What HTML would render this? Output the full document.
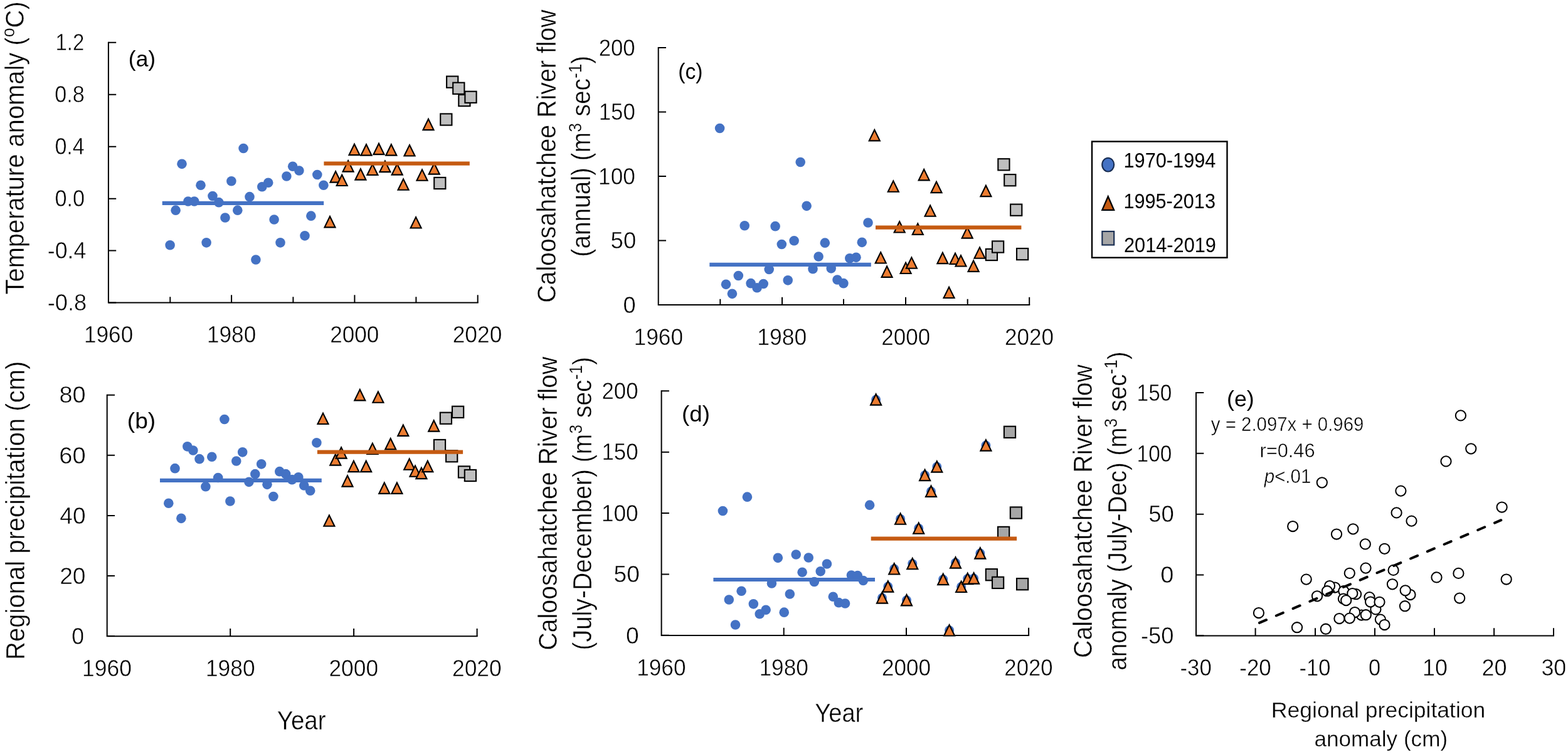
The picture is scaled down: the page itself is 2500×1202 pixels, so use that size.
<!DOCTYPE html>
<html lang="en"><head><meta charset="utf-8"><title>Figure</title>
<style>html,body{margin:0;padding:0;background:#fff}body{width:2500px;height:1202px;overflow:hidden}svg{display:block}text{font-family:'Liberation Sans', sans-serif;fill:#000;white-space:pre;stroke:#fff;stroke-width:.5px}text.pl{stroke:none}text.tt{stroke-width:.45px}text.xt{stroke-width:.35px}tspan.sp{stroke-width:.3px}</style>
</head><body>
<svg width="2500" height="1202" viewBox="0 0 2500 1202" role="img" aria-label="Five-panel figure: temperature anomaly, regional precipitation and Caloosahatchee River flow by year, with precipitation-flow regression">
<rect width="2500" height="1202" fill="#fff"/>
<g id="panel-a">
<path d="M172.9 66.7V482.6H762.7" fill="none" stroke="#000" stroke-width="2" stroke-linejoin="miter"/><path d="M172.9 67.7h12.3M172.9 150.68h12.3M172.9 233.66h12.3M172.9 316.64h12.3M172.9 399.62h12.3M172.9 482.4h12.3M369.1 482.6v-12.3M565.4 482.6v-12.3M761.7 482.6v-12.3M271.3 482.6v-9.3M467.4 482.6v-9.3M663.4 482.6v-9.3" fill="none" stroke="#000" stroke-width="2"/>
<circle cx="271.1" cy="390.75" r="7.8" fill="#4472C4"/><circle cx="280.1" cy="335.15" r="7.8" fill="#4472C4"/><circle cx="290" cy="261.35" r="7.8" fill="#4472C4"/><circle cx="299.9" cy="320.95" r="7.8" fill="#4472C4"/><circle cx="309.8" cy="320.95" r="7.8" fill="#4472C4"/><circle cx="320" cy="295.25" r="7.8" fill="#4472C4"/><circle cx="329.1" cy="386.85" r="7.8" fill="#4472C4"/><circle cx="339" cy="312.45" r="7.8" fill="#4472C4"/><circle cx="348.9" cy="322.65" r="7.8" fill="#4472C4"/><circle cx="359" cy="346.95" r="7.8" fill="#4472C4"/><circle cx="368.9" cy="288.75" r="7.8" fill="#4472C4"/><circle cx="378.8" cy="335.15" r="7.8" fill="#4472C4"/><circle cx="388.1" cy="236.45" r="7.8" fill="#4472C4"/><circle cx="398" cy="313.65" r="7.8" fill="#4472C4"/><circle cx="407.9" cy="413.95" r="7.8" fill="#4472C4"/><circle cx="417.8" cy="297.75" r="7.8" fill="#4472C4"/><circle cx="427.7" cy="291.25" r="7.8" fill="#4472C4"/><circle cx="437.1" cy="350.05" r="7.8" fill="#4472C4"/><circle cx="447" cy="386.85" r="7.8" fill="#4472C4"/><circle cx="456.9" cy="281.05" r="7.8" fill="#4472C4"/><circle cx="466.7" cy="265.25" r="7.8" fill="#4472C4"/><circle cx="476.9" cy="272.05" r="7.8" fill="#4472C4"/><circle cx="486" cy="375.85" r="7.8" fill="#4472C4"/><circle cx="495.9" cy="344.15" r="7.8" fill="#4472C4"/><circle cx="505.8" cy="278.55" r="7.8" fill="#4472C4"/><circle cx="515.9" cy="295.25" r="7.8" fill="#4472C4"/><path d="M526 345L534.5 362.35L517.5 362.35Z" fill="#ED7D31" stroke="#000" stroke-width="2.15" stroke-linejoin="miter"/><path d="M535.1 273.2L543.6 290.55L526.6 290.55Z" fill="#ED7D31" stroke="#000" stroke-width="2.15" stroke-linejoin="miter"/><path d="M545.2 278.6L553.7 295.95L536.7 295.95Z" fill="#ED7D31" stroke="#000" stroke-width="2.15" stroke-linejoin="miter"/><path d="M555.1 256.2L563.6 273.55L546.6 273.55Z" fill="#ED7D31" stroke="#000" stroke-width="2.15" stroke-linejoin="miter"/><path d="M565 229.7L573.5 247.05L556.5 247.05Z" fill="#ED7D31" stroke="#000" stroke-width="2.15" stroke-linejoin="miter"/><path d="M574.9 269.3L583.4 286.65L566.4 286.65Z" fill="#ED7D31" stroke="#000" stroke-width="2.15" stroke-linejoin="miter"/><path d="M584 230.2L592.5 247.55L575.5 247.55Z" fill="#ED7D31" stroke="#000" stroke-width="2.15" stroke-linejoin="miter"/><path d="M593.9 261.6L602.4 278.95L585.4 278.95Z" fill="#ED7D31" stroke="#000" stroke-width="2.15" stroke-linejoin="miter"/><path d="M604 228.8L612.5 246.15L595.5 246.15Z" fill="#ED7D31" stroke="#000" stroke-width="2.15" stroke-linejoin="miter"/><path d="M613.9 256.8L622.4 274.15L605.4 274.15Z" fill="#ED7D31" stroke="#000" stroke-width="2.15" stroke-linejoin="miter"/><path d="M623.8 230.2L632.3 247.55L615.3 247.55Z" fill="#ED7D31" stroke="#000" stroke-width="2.15" stroke-linejoin="miter"/><path d="M633.2 261.3L641.7 278.65L624.7 278.65Z" fill="#ED7D31" stroke="#000" stroke-width="2.15" stroke-linejoin="miter"/><path d="M643.1 285.4L651.6 302.75L634.6 302.75Z" fill="#ED7D31" stroke="#000" stroke-width="2.15" stroke-linejoin="miter"/><path d="M653 231.1L661.5 248.45L644.5 248.45Z" fill="#ED7D31" stroke="#000" stroke-width="2.15" stroke-linejoin="miter"/><path d="M663.1 346.1L671.6 363.45L654.6 363.45Z" fill="#ED7D31" stroke="#000" stroke-width="2.15" stroke-linejoin="miter"/><path d="M673 270.4L681.5 287.75L664.5 287.75Z" fill="#ED7D31" stroke="#000" stroke-width="2.15" stroke-linejoin="miter"/><path d="M683 189.7L691.5 207.05L674.5 207.05Z" fill="#ED7D31" stroke="#000" stroke-width="2.15" stroke-linejoin="miter"/><path d="M692.3 260.2L700.8 277.55L683.8 277.55Z" fill="#ED7D31" stroke="#000" stroke-width="2.15" stroke-linejoin="miter"/><rect x="692.2" y="282.9" width="18.2" height="18.2" fill="#BFBFBF" stroke="#000" stroke-width="2.1"/><rect x="702.2" y="181.4" width="18.2" height="18.2" fill="#BFBFBF" stroke="#000" stroke-width="2.1"/><rect x="712.1" y="121.6" width="18.2" height="18.2" fill="#BFBFBF" stroke="#000" stroke-width="2.1"/><rect x="722.2" y="131.7" width="18.2" height="18.2" fill="#BFBFBF" stroke="#000" stroke-width="2.1"/><rect x="731.3" y="151" width="18.2" height="18.2" fill="#BFBFBF" stroke="#000" stroke-width="2.1"/><rect x="741.4" y="145.7" width="18.2" height="18.2" fill="#BFBFBF" stroke="#000" stroke-width="2.1"/><line x1="258.7" y1="323.9" x2="516.2" y2="323.9" stroke="#4472C4" stroke-width="6.2"/><line x1="516.4" y1="260.6" x2="748.8" y2="260.6" stroke="#C55A11" stroke-width="6.2"/>
</g>
<g id="panel-b">
<path d="M170.7 628.7V1014.25H761.6" fill="none" stroke="#000" stroke-width="2" stroke-linejoin="miter"/><path d="M170.7 629.7h12.3M170.7 725.84h12.3M170.7 821.98h12.3M170.7 918.11h12.3M170.7 1014.05h12.3M367.2 1014.25v-12.3M564.1 1014.25v-12.3M760.6 1014.25v-12.3" fill="none" stroke="#000" stroke-width="2"/>
<circle cx="268.8" cy="802.25" r="7.8" fill="#4472C4"/><circle cx="279" cy="746.65" r="7.8" fill="#4472C4"/><circle cx="288.9" cy="826.35" r="7.8" fill="#4472C4"/><circle cx="298.8" cy="711.85" r="7.8" fill="#4472C4"/><circle cx="307.9" cy="718.05" r="7.8" fill="#4472C4"/><circle cx="318" cy="731.65" r="7.8" fill="#4472C4"/><circle cx="327.9" cy="775.75" r="7.8" fill="#4472C4"/><circle cx="337.8" cy="728.25" r="7.8" fill="#4472C4"/><circle cx="347.7" cy="761.55" r="7.8" fill="#4472C4"/><circle cx="357.9" cy="668.55" r="7.8" fill="#4472C4"/><circle cx="366.9" cy="798.95" r="7.8" fill="#4472C4"/><circle cx="376.8" cy="735.05" r="7.8" fill="#4472C4"/><circle cx="386.7" cy="720.85" r="7.8" fill="#4472C4"/><circle cx="396.9" cy="768.35" r="7.8" fill="#4472C4"/><circle cx="406.8" cy="755.65" r="7.8" fill="#4472C4"/><circle cx="416.7" cy="739.85" r="7.8" fill="#4472C4"/><circle cx="426" cy="772.35" r="7.8" fill="#4472C4"/><circle cx="435.9" cy="791.55" r="7.8" fill="#4472C4"/><circle cx="445.8" cy="751.65" r="7.8" fill="#4472C4"/><circle cx="455.7" cy="755.65" r="7.8" fill="#4472C4"/><circle cx="465.6" cy="764.65" r="7.8" fill="#4472C4"/><circle cx="475.8" cy="760.75" r="7.8" fill="#4472C4"/><circle cx="484.8" cy="774.05" r="7.8" fill="#4472C4"/><circle cx="494.7" cy="782.25" r="7.8" fill="#4472C4"/><circle cx="504.9" cy="705.85" r="7.8" fill="#4472C4"/><path d="M515 658.6L523.5 675.95L506.5 675.95Z" fill="#ED7D31" stroke="#000" stroke-width="2.15" stroke-linejoin="miter"/><path d="M524.9 821.4L533.4 838.75L516.4 838.75Z" fill="#ED7D31" stroke="#000" stroke-width="2.15" stroke-linejoin="miter"/><path d="M534.8 724.3L543.3 741.65L526.3 741.65Z" fill="#ED7D31" stroke="#000" stroke-width="2.15" stroke-linejoin="miter"/><path d="M544.1 713.3L552.6 730.65L535.6 730.65Z" fill="#ED7D31" stroke="#000" stroke-width="2.15" stroke-linejoin="miter"/><path d="M554 758.2L562.5 775.55L545.5 775.55Z" fill="#ED7D31" stroke="#000" stroke-width="2.15" stroke-linejoin="miter"/><path d="M563.9 734.8L572.4 752.15L555.4 752.15Z" fill="#ED7D31" stroke="#000" stroke-width="2.15" stroke-linejoin="miter"/><path d="M573.8 621L582.3 638.35L565.3 638.35Z" fill="#ED7D31" stroke="#000" stroke-width="2.15" stroke-linejoin="miter"/><path d="M583.7 734.8L592.2 752.15L575.2 752.15Z" fill="#ED7D31" stroke="#000" stroke-width="2.15" stroke-linejoin="miter"/><path d="M593.9 706.6L602.4 723.95L585.4 723.95Z" fill="#ED7D31" stroke="#000" stroke-width="2.15" stroke-linejoin="miter"/><path d="M602.9 624.4L611.4 641.75L594.4 641.75Z" fill="#ED7D31" stroke="#000" stroke-width="2.15" stroke-linejoin="miter"/><path d="M612.8 769.5L621.3 786.85L604.3 786.85Z" fill="#ED7D31" stroke="#000" stroke-width="2.15" stroke-linejoin="miter"/><path d="M622.7 699L631.2 716.35L614.2 716.35Z" fill="#ED7D31" stroke="#000" stroke-width="2.15" stroke-linejoin="miter"/><path d="M632.9 769.5L641.4 786.85L624.4 786.85Z" fill="#ED7D31" stroke="#000" stroke-width="2.15" stroke-linejoin="miter"/><path d="M642.8 677.5L651.3 694.85L634.3 694.85Z" fill="#ED7D31" stroke="#000" stroke-width="2.15" stroke-linejoin="miter"/><path d="M652.7 731.4L661.2 748.75L644.2 748.75Z" fill="#ED7D31" stroke="#000" stroke-width="2.15" stroke-linejoin="miter"/><path d="M662 742.4L670.5 759.75L653.5 759.75Z" fill="#ED7D31" stroke="#000" stroke-width="2.15" stroke-linejoin="miter"/><path d="M671.9 745.8L680.4 763.15L663.4 763.15Z" fill="#ED7D31" stroke="#000" stroke-width="2.15" stroke-linejoin="miter"/><path d="M681.8 734.8L690.3 752.15L673.3 752.15Z" fill="#ED7D31" stroke="#000" stroke-width="2.15" stroke-linejoin="miter"/><path d="M691.7 670.2L700.2 687.55L683.2 687.55Z" fill="#ED7D31" stroke="#000" stroke-width="2.15" stroke-linejoin="miter"/><rect x="691.9" y="700.9" width="18.2" height="18.2" fill="#BFBFBF" stroke="#000" stroke-width="2.1"/><rect x="701.8" y="657.6" width="18.2" height="18.2" fill="#BFBFBF" stroke="#000" stroke-width="2.1"/><rect x="711.1" y="718.1" width="18.2" height="18.2" fill="#BFBFBF" stroke="#000" stroke-width="2.1"/><rect x="721" y="647.7" width="18.2" height="18.2" fill="#BFBFBF" stroke="#000" stroke-width="2.1"/><rect x="730.9" y="743.3" width="18.2" height="18.2" fill="#BFBFBF" stroke="#000" stroke-width="2.1"/><rect x="740.8" y="748.9" width="18.2" height="18.2" fill="#BFBFBF" stroke="#000" stroke-width="2.1"/><line x1="255" y1="765.8" x2="512.8" y2="765.8" stroke="#4472C4" stroke-width="6.2"/><line x1="505.9" y1="720.7" x2="738.1" y2="720.7" stroke="#C55A11" stroke-width="6.2"/>
</g>
<g id="panel-c">
<path d="M1049.7 75V486.1H1642.2" fill="none" stroke="#000" stroke-width="2" stroke-linejoin="miter"/><path d="M1049.7 76h12.3M1049.7 178.53h12.3M1049.7 281.05h12.3M1049.7 383.58h12.3M1049.7 485.9h12.3M1247 486.1v-12.3M1444 486.1v-12.3M1641.2 486.1v-12.3M1148.3 486.1v-9.3M1345 486.1v-9.3M1542.7 486.1v-9.3" fill="none" stroke="#000" stroke-width="2"/>
<circle cx="1147.6" cy="204.55" r="7.8" fill="#4472C4"/><circle cx="1157.5" cy="453.35" r="7.8" fill="#4472C4"/><circle cx="1167.4" cy="468.35" r="7.8" fill="#4472C4"/><circle cx="1177.3" cy="439.45" r="7.8" fill="#4472C4"/><circle cx="1187.2" cy="359.75" r="7.8" fill="#4472C4"/><circle cx="1197.1" cy="451.65" r="7.8" fill="#4472C4"/><circle cx="1207" cy="458.75" r="7.8" fill="#4472C4"/><circle cx="1217.2" cy="452.45" r="7.8" fill="#4472C4"/><circle cx="1226.2" cy="429.55" r="7.8" fill="#4472C4"/><circle cx="1236.1" cy="360.65" r="7.8" fill="#4472C4"/><circle cx="1246.3" cy="389.45" r="7.8" fill="#4472C4"/><circle cx="1256.2" cy="446.85" r="7.8" fill="#4472C4"/><circle cx="1266.1" cy="383.75" r="7.8" fill="#4472C4"/><circle cx="1276.2" cy="258.55" r="7.8" fill="#4472C4"/><circle cx="1286.1" cy="328.35" r="7.8" fill="#4472C4"/><circle cx="1296" cy="428.75" r="7.8" fill="#4472C4"/><circle cx="1305.1" cy="408.95" r="7.8" fill="#4472C4"/><circle cx="1315.3" cy="387.15" r="7.8" fill="#4472C4"/><circle cx="1325.2" cy="427.85" r="7.8" fill="#4472C4"/><circle cx="1335" cy="445.95" r="7.8" fill="#4472C4"/><circle cx="1344.9" cy="451.65" r="7.8" fill="#4472C4"/><circle cx="1354.8" cy="411.75" r="7.8" fill="#4472C4"/><circle cx="1365" cy="410.35" r="7.8" fill="#4472C4"/><circle cx="1374.3" cy="386.35" r="7.8" fill="#4472C4"/><circle cx="1384" cy="354.95" r="7.8" fill="#4472C4"/><path d="M1394.3 207L1402.8 224.35L1385.8 224.35Z" fill="#ED7D31" stroke="#000" stroke-width="2.15" stroke-linejoin="miter"/><path d="M1404.2 402.1L1412.7 419.45L1395.7 419.45Z" fill="#ED7D31" stroke="#000" stroke-width="2.15" stroke-linejoin="miter"/><path d="M1414.1 424.5L1422.6 441.85L1405.6 441.85Z" fill="#ED7D31" stroke="#000" stroke-width="2.15" stroke-linejoin="miter"/><path d="M1424.3 288.4L1432.8 305.75L1415.8 305.75Z" fill="#ED7D31" stroke="#000" stroke-width="2.15" stroke-linejoin="miter"/><path d="M1434.2 353.1L1442.7 370.45L1425.7 370.45Z" fill="#ED7D31" stroke="#000" stroke-width="2.15" stroke-linejoin="miter"/><path d="M1444.1 418.6L1452.6 435.95L1435.6 435.95Z" fill="#ED7D31" stroke="#000" stroke-width="2.15" stroke-linejoin="miter"/><path d="M1453.4 410.4L1461.9 427.75L1444.9 427.75Z" fill="#ED7D31" stroke="#000" stroke-width="2.15" stroke-linejoin="miter"/><path d="M1463.3 356.5L1471.8 373.85L1454.8 373.85Z" fill="#ED7D31" stroke="#000" stroke-width="2.15" stroke-linejoin="miter"/><path d="M1473.2 270L1481.7 287.35L1464.7 287.35Z" fill="#ED7D31" stroke="#000" stroke-width="2.15" stroke-linejoin="miter"/><path d="M1483.1 327.4L1491.6 344.75L1474.6 344.75Z" fill="#ED7D31" stroke="#000" stroke-width="2.15" stroke-linejoin="miter"/><path d="M1493 289.8L1501.5 307.15L1484.5 307.15Z" fill="#ED7D31" stroke="#000" stroke-width="2.15" stroke-linejoin="miter"/><path d="M1502.9 402.8L1511.4 420.15L1494.4 420.15Z" fill="#ED7D31" stroke="#000" stroke-width="2.15" stroke-linejoin="miter"/><path d="M1513.1 457.6L1521.6 474.95L1504.6 474.95Z" fill="#ED7D31" stroke="#000" stroke-width="2.15" stroke-linejoin="miter"/><path d="M1523 403.6L1531.5 420.95L1514.5 420.95Z" fill="#ED7D31" stroke="#000" stroke-width="2.15" stroke-linejoin="miter"/><path d="M1532 407.1L1540.5 424.45L1523.5 424.45Z" fill="#ED7D31" stroke="#000" stroke-width="2.15" stroke-linejoin="miter"/><path d="M1542.2 362.3L1550.7 379.65L1533.7 379.65Z" fill="#ED7D31" stroke="#000" stroke-width="2.15" stroke-linejoin="miter"/><path d="M1552.1 415.5L1560.6 432.85L1543.6 432.85Z" fill="#ED7D31" stroke="#000" stroke-width="2.15" stroke-linejoin="miter"/><path d="M1562 394.4L1570.5 411.75L1553.5 411.75Z" fill="#ED7D31" stroke="#000" stroke-width="2.15" stroke-linejoin="miter"/><path d="M1571.9 295.7L1580.4 313.05L1563.4 313.05Z" fill="#ED7D31" stroke="#000" stroke-width="2.15" stroke-linejoin="miter"/><rect x="1571.8" y="396.9" width="18.2" height="18.2" fill="#BFBFBF" stroke="#000" stroke-width="2.1"/><rect x="1582" y="384.4" width="18.2" height="18.2" fill="#BFBFBF" stroke="#000" stroke-width="2.1"/><rect x="1591.3" y="253.2" width="18.2" height="18.2" fill="#BFBFBF" stroke="#000" stroke-width="2.1"/><rect x="1601.2" y="278.1" width="18.2" height="18.2" fill="#BFBFBF" stroke="#000" stroke-width="2.1"/><rect x="1611.1" y="325.6" width="18.2" height="18.2" fill="#BFBFBF" stroke="#000" stroke-width="2.1"/><rect x="1621" y="396" width="18.2" height="18.2" fill="#BFBFBF" stroke="#000" stroke-width="2.1"/><line x1="1131.3" y1="421.8" x2="1388.8" y2="421.8" stroke="#4472C4" stroke-width="6.2"/><line x1="1396" y1="362.7" x2="1628.4" y2="362.7" stroke="#C55A11" stroke-width="6.2"/>
</g>
<g id="panel-d">
<path d="M1054.6 622.25V1012.95H1641.1" fill="none" stroke="#000" stroke-width="2" stroke-linejoin="miter"/><path d="M1054.6 623.25h12.3M1054.6 720.67h12.3M1054.6 818.1h12.3M1054.6 915.53h12.3M1054.6 1012.75h12.3M1249.7 1012.95v-12.3M1445 1012.95v-12.3M1640.1 1012.95v-12.3" fill="none" stroke="#000" stroke-width="2"/>
<circle cx="1396.6" cy="636.95" r="7.5" fill="#4472C4"/><circle cx="1406.5" cy="952.95" r="7.5" fill="#4472C4"/><circle cx="1415.8" cy="935.05" r="7.5" fill="#4472C4"/><circle cx="1425.7" cy="906.85" r="7.5" fill="#4472C4"/><circle cx="1435.6" cy="827.15" r="7.5" fill="#4472C4"/><circle cx="1445.5" cy="956.75" r="7.5" fill="#4472C4"/><circle cx="1454.8" cy="898.65" r="7.5" fill="#4472C4"/><circle cx="1464.7" cy="842.15" r="7.5" fill="#4472C4"/><circle cx="1474.6" cy="757.55" r="7.5" fill="#4472C4"/><circle cx="1484.5" cy="783.25" r="7.5" fill="#4472C4"/><circle cx="1493.8" cy="744.05" r="7.5" fill="#4472C4"/><circle cx="1503.7" cy="923.45" r="7.5" fill="#4472C4"/><circle cx="1513.6" cy="1004.85" r="7.5" fill="#4472C4"/><circle cx="1523.5" cy="896.95" r="7.5" fill="#4472C4"/><circle cx="1532.6" cy="935.35" r="7.5" fill="#4472C4"/><circle cx="1542.7" cy="922.55" r="7.5" fill="#4472C4"/><circle cx="1552.6" cy="922.05" r="7.5" fill="#4472C4"/><circle cx="1562.8" cy="882.05" r="7.5" fill="#4472C4"/><circle cx="1571.9" cy="710.05" r="7.5" fill="#4472C4"/><circle cx="1152.4" cy="814.45" r="7.8" fill="#4472C4"/><circle cx="1162.3" cy="956.05" r="7.8" fill="#4472C4"/><circle cx="1172.5" cy="995.95" r="7.8" fill="#4472C4"/><circle cx="1182.1" cy="942.25" r="7.8" fill="#4472C4"/><circle cx="1191.4" cy="792.15" r="7.8" fill="#4472C4"/><circle cx="1201.3" cy="962.85" r="7.8" fill="#4472C4"/><circle cx="1211.2" cy="978.75" r="7.8" fill="#4472C4"/><circle cx="1221.1" cy="972.25" r="7.8" fill="#4472C4"/><circle cx="1230.4" cy="930.05" r="7.8" fill="#4472C4"/><circle cx="1240.3" cy="889.35" r="7.8" fill="#4472C4"/><circle cx="1250.2" cy="976.15" r="7.8" fill="#4472C4"/><circle cx="1259.3" cy="947.05" r="7.8" fill="#4472C4"/><circle cx="1269.2" cy="883.95" r="7.8" fill="#4472C4"/><circle cx="1279.1" cy="912.25" r="7.8" fill="#4472C4"/><circle cx="1289.2" cy="889.05" r="7.8" fill="#4472C4"/><circle cx="1298.3" cy="927.55" r="7.8" fill="#4472C4"/><circle cx="1308.2" cy="910.85" r="7.8" fill="#4472C4"/><circle cx="1318.4" cy="898.95" r="7.8" fill="#4472C4"/><circle cx="1328.3" cy="951.25" r="7.8" fill="#4472C4"/><circle cx="1337.3" cy="960.65" r="7.8" fill="#4472C4"/><circle cx="1347.5" cy="962.05" r="7.8" fill="#4472C4"/><circle cx="1357.4" cy="917.05" r="7.8" fill="#4472C4"/><circle cx="1367.3" cy="917.65" r="7.8" fill="#4472C4"/><circle cx="1376.3" cy="925.55" r="7.8" fill="#4472C4"/><circle cx="1386.6" cy="805.15" r="7.8" fill="#4472C4"/><path d="M1396.6 628.2L1405.1 645.55L1388.1 645.55Z" fill="#ED7D31" stroke="#000" stroke-width="2.15" stroke-linejoin="miter"/><path d="M1406.5 944.2L1415 961.55L1398 961.55Z" fill="#ED7D31" stroke="#000" stroke-width="2.15" stroke-linejoin="miter"/><path d="M1415.8 926.3L1424.3 943.65L1407.3 943.65Z" fill="#ED7D31" stroke="#000" stroke-width="2.15" stroke-linejoin="miter"/><path d="M1425.7 898.1L1434.2 915.45L1417.2 915.45Z" fill="#ED7D31" stroke="#000" stroke-width="2.15" stroke-linejoin="miter"/><path d="M1435.6 818.4L1444.1 835.75L1427.1 835.75Z" fill="#ED7D31" stroke="#000" stroke-width="2.15" stroke-linejoin="miter"/><path d="M1445.5 948L1454 965.35L1437 965.35Z" fill="#ED7D31" stroke="#000" stroke-width="2.15" stroke-linejoin="miter"/><path d="M1454.8 889.9L1463.3 907.25L1446.3 907.25Z" fill="#ED7D31" stroke="#000" stroke-width="2.15" stroke-linejoin="miter"/><path d="M1464.7 833.4L1473.2 850.75L1456.2 850.75Z" fill="#ED7D31" stroke="#000" stroke-width="2.15" stroke-linejoin="miter"/><path d="M1474.6 748.8L1483.1 766.15L1466.1 766.15Z" fill="#ED7D31" stroke="#000" stroke-width="2.15" stroke-linejoin="miter"/><path d="M1484.5 774.5L1493 791.85L1476 791.85Z" fill="#ED7D31" stroke="#000" stroke-width="2.15" stroke-linejoin="miter"/><path d="M1493.8 735.3L1502.3 752.65L1485.3 752.65Z" fill="#ED7D31" stroke="#000" stroke-width="2.15" stroke-linejoin="miter"/><path d="M1503.7 914.7L1512.2 932.05L1495.2 932.05Z" fill="#ED7D31" stroke="#000" stroke-width="2.15" stroke-linejoin="miter"/><path d="M1513.6 996.1L1522.1 1013.45L1505.1 1013.45Z" fill="#ED7D31" stroke="#000" stroke-width="2.15" stroke-linejoin="miter"/><path d="M1523.5 888.2L1532 905.55L1515 905.55Z" fill="#ED7D31" stroke="#000" stroke-width="2.15" stroke-linejoin="miter"/><path d="M1532.6 926.6L1541.1 943.95L1524.1 943.95Z" fill="#ED7D31" stroke="#000" stroke-width="2.15" stroke-linejoin="miter"/><path d="M1542.7 913.8L1551.2 931.15L1534.2 931.15Z" fill="#ED7D31" stroke="#000" stroke-width="2.15" stroke-linejoin="miter"/><path d="M1552.6 913.3L1561.1 930.65L1544.1 930.65Z" fill="#ED7D31" stroke="#000" stroke-width="2.15" stroke-linejoin="miter"/><path d="M1562.8 873.3L1571.3 890.65L1554.3 890.65Z" fill="#ED7D31" stroke="#000" stroke-width="2.15" stroke-linejoin="miter"/><path d="M1571.9 701.3L1580.4 718.65L1563.4 718.65Z" fill="#ED7D31" stroke="#000" stroke-width="2.15" stroke-linejoin="miter"/><rect x="1571.8" y="907.1" width="18.2" height="18.2" fill="#A6A6A6" stroke="#000" stroke-width="2.1"/><rect x="1582" y="919.8" width="18.2" height="18.2" fill="#A6A6A6" stroke="#000" stroke-width="2.1"/><rect x="1591" y="839.8" width="18.2" height="18.2" fill="#A6A6A6" stroke="#000" stroke-width="2.1"/><rect x="1600.9" y="679.7" width="18.2" height="18.2" fill="#A6A6A6" stroke="#000" stroke-width="2.1"/><rect x="1610.8" y="808.4" width="18.2" height="18.2" fill="#A6A6A6" stroke="#000" stroke-width="2.1"/><rect x="1621" y="922.1" width="18.2" height="18.2" fill="#A6A6A6" stroke="#000" stroke-width="2.1"/><line x1="1137.4" y1="924" x2="1395" y2="924" stroke="#4472C4" stroke-width="6.2"/><line x1="1388.7" y1="858.7" x2="1621.1" y2="858.7" stroke="#C55A11" stroke-width="6.2"/>
</g>
<g id="panel-e">
<path d="M1907 624.9V1013.5H2478" fill="none" stroke="#000" stroke-width="2" stroke-linejoin="miter"/><path d="M1907 625.9h12.3M1907 722.8h12.3M1907 819.7h12.3M1907 916.6h12.3M1907 1013.3h12.3M2001.6 1013.5v-12.3M2097 1013.5v-12.3M2192 1013.5v-12.3M2287 1013.5v-12.3M2382.1 1013.5v-12.3M2477 1013.5v-12.3" fill="none" stroke="#000" stroke-width="2"/>
<circle cx="2006.9" cy="977" r="8.1" fill="#fff" stroke="#000" stroke-width="2.05"/><circle cx="2061.2" cy="839" r="8.1" fill="#fff" stroke="#000" stroke-width="2.05"/><circle cx="2068" cy="1000.2" r="8.1" fill="#fff" stroke="#000" stroke-width="2.05"/><circle cx="2082.7" cy="923.6" r="8.1" fill="#fff" stroke="#000" stroke-width="2.05"/><circle cx="2100" cy="950.3" r="8.1" fill="#fff" stroke="#000" stroke-width="2.05"/><circle cx="2107.8" cy="769.3" r="8.1" fill="#fff" stroke="#000" stroke-width="2.05"/><circle cx="2113.8" cy="1002.7" r="8.1" fill="#fff" stroke="#000" stroke-width="2.05"/><circle cx="2128.4" cy="936.5" r="8.1" fill="#fff" stroke="#000" stroke-width="2.05"/><circle cx="2120" cy="934" r="8.1" fill="#fff" stroke="#000" stroke-width="2.05"/><circle cx="2116" cy="942.2" r="8.1" fill="#fff" stroke="#000" stroke-width="2.05"/><circle cx="2131" cy="851.5" r="8.1" fill="#fff" stroke="#000" stroke-width="2.05"/><circle cx="2135.4" cy="986" r="8.1" fill="#fff" stroke="#000" stroke-width="2.05"/><circle cx="2162" cy="947.2" r="8.1" fill="#fff" stroke="#000" stroke-width="2.05"/><circle cx="2142.4" cy="942.2" r="8.1" fill="#fff" stroke="#000" stroke-width="2.05"/><circle cx="2141.9" cy="954.6" r="8.1" fill="#fff" stroke="#000" stroke-width="2.05"/><circle cx="2156.3" cy="946.1" r="8.1" fill="#fff" stroke="#000" stroke-width="2.05"/><circle cx="2146.2" cy="957.1" r="8.1" fill="#fff" stroke="#000" stroke-width="2.05"/><circle cx="2151.8" cy="913.8" r="8.1" fill="#fff" stroke="#000" stroke-width="2.05"/><circle cx="2170.7" cy="980.5" r="8.1" fill="#fff" stroke="#000" stroke-width="2.05"/><circle cx="2160.1" cy="976" r="8.1" fill="#fff" stroke="#000" stroke-width="2.05"/><circle cx="2151.8" cy="985.6" r="8.1" fill="#fff" stroke="#000" stroke-width="2.05"/><circle cx="2177.8" cy="980.2" r="8.1" fill="#fff" stroke="#000" stroke-width="2.05"/><circle cx="2157.3" cy="843.3" r="8.1" fill="#fff" stroke="#000" stroke-width="2.05"/><circle cx="2176.8" cy="867.4" r="8.1" fill="#fff" stroke="#000" stroke-width="2.05"/><circle cx="2177.5" cy="905.6" r="8.1" fill="#fff" stroke="#000" stroke-width="2.05"/><circle cx="2183.5" cy="952.1" r="8.1" fill="#fff" stroke="#000" stroke-width="2.05"/><circle cx="2193.4" cy="971.4" r="8.1" fill="#fff" stroke="#000" stroke-width="2.05"/><circle cx="2185.1" cy="959.5" r="8.1" fill="#fff" stroke="#000" stroke-width="2.05"/><circle cx="2199.5" cy="959.8" r="8.1" fill="#fff" stroke="#000" stroke-width="2.05"/><circle cx="2200.9" cy="987.6" r="8.1" fill="#fff" stroke="#000" stroke-width="2.05"/><circle cx="2207.5" cy="996" r="8.1" fill="#fff" stroke="#000" stroke-width="2.05"/><circle cx="2207.5" cy="874.8" r="8.1" fill="#fff" stroke="#000" stroke-width="2.05"/><circle cx="2220" cy="931.3" r="8.1" fill="#fff" stroke="#000" stroke-width="2.05"/><circle cx="2221.6" cy="908.9" r="8.1" fill="#fff" stroke="#000" stroke-width="2.05"/><circle cx="2226.6" cy="817.4" r="8.1" fill="#fff" stroke="#000" stroke-width="2.05"/><circle cx="2233.4" cy="782.6" r="8.1" fill="#fff" stroke="#000" stroke-width="2.05"/><circle cx="2240" cy="966.2" r="8.1" fill="#fff" stroke="#000" stroke-width="2.05"/><circle cx="2248.5" cy="948" r="8.1" fill="#fff" stroke="#000" stroke-width="2.05"/><circle cx="2240.7" cy="941.3" r="8.1" fill="#fff" stroke="#000" stroke-width="2.05"/><circle cx="2250.5" cy="830.6" r="8.1" fill="#fff" stroke="#000" stroke-width="2.05"/><circle cx="2290.5" cy="920.4" r="8.1" fill="#fff" stroke="#000" stroke-width="2.05"/><circle cx="2305.5" cy="735.4" r="8.1" fill="#fff" stroke="#000" stroke-width="2.05"/><circle cx="2325.4" cy="913.9" r="8.1" fill="#fff" stroke="#000" stroke-width="2.05"/><circle cx="2327.2" cy="953.5" r="8.1" fill="#fff" stroke="#000" stroke-width="2.05"/><circle cx="2328.9" cy="662.4" r="8.1" fill="#fff" stroke="#000" stroke-width="2.05"/><circle cx="2345.3" cy="715.3" r="8.1" fill="#fff" stroke="#000" stroke-width="2.05"/><circle cx="2394.6" cy="808.5" r="8.1" fill="#fff" stroke="#000" stroke-width="2.05"/><circle cx="2401.7" cy="923.5" r="8.1" fill="#fff" stroke="#000" stroke-width="2.05"/>
<line x1="2008" y1="992.9" x2="2393.3" y2="829.2" stroke="#000" stroke-width="4" stroke-dasharray="12 17.1" stroke-linecap="round"/>
</g>
<g id="legend">
<rect x="1741" y="225.6" width="215.5" height="185.1" fill="#fff" stroke="#000" stroke-width="2.4"/>
<ellipse cx="1766.7" cy="262.6" rx="9.5" ry="10.9" fill="#4472C4" stroke="#172C51" stroke-width="2.1"/>
<path d="M1766.7 313.2L1776.1 334.9L1757.3 334.9Z" fill="#C55A11" stroke="#000" stroke-width="2.3" stroke-linejoin="miter"/>
<rect x="1757.3" y="368.9" width="18.9" height="21.6" fill="#A6A6A6" stroke="#172C51" stroke-width="2.1"/>
</g>
<g id="labels">
<text id="a-yt" x="37.8" y="469.49" font-size="43" class="tt" textLength="467.21" lengthAdjust="spacingAndGlyphs" transform="rotate(-90 37.8 469.49)">Temperature anomaly (<tspan dy="-14.5" font-size="29" class="sp">o</tspan><tspan dy="14.5">C)</tspan></text>
<text id="a-y1.2" x="88.43" y="80.4" font-size="36.7" textLength="45.87" lengthAdjust="spacingAndGlyphs">1.2</text>
<text id="a-y0.8" x="87.37" y="163.38" font-size="36.7" textLength="47.54" lengthAdjust="spacingAndGlyphs">0.8</text>
<text id="a-y0.4" x="87.38" y="246.36" font-size="36.7" textLength="47.43" lengthAdjust="spacingAndGlyphs">0.4</text>
<text id="a-y0.0" x="87.46" y="329.34" font-size="36.7" textLength="47.64" lengthAdjust="spacingAndGlyphs">0.0</text>
<text id="a-y-0.4" x="75.8" y="412.32" font-size="36.7" textLength="61.49" lengthAdjust="spacingAndGlyphs">-0.4</text>
<text id="a-y-0.8" x="75.78" y="495.3" font-size="36.7" textLength="62.27" lengthAdjust="spacingAndGlyphs">-0.8</text>
<text id="a-x1960" x="133.93" y="545.9" font-size="36.7" textLength="78.34" lengthAdjust="spacingAndGlyphs">1960</text>
<text id="a-x1980" x="329.93" y="545.9" font-size="36.7" textLength="78.34" lengthAdjust="spacingAndGlyphs">1980</text>
<text id="a-x2000" x="526.27" y="545.9" font-size="36.7" textLength="78.11" lengthAdjust="spacingAndGlyphs">2000</text>
<text id="a-x2020" x="721.68" y="545.9" font-size="36.7" textLength="78.7" lengthAdjust="spacingAndGlyphs">2020</text>
<text id="a-l" x="204.84" y="105.8" font-size="35" class="pl" textLength="43.31" lengthAdjust="spacingAndGlyphs">(a)</text>
<text id="b-yt" x="39.1" y="1051.99" font-size="43" class="tt" textLength="476.4" lengthAdjust="spacingAndGlyphs" transform="rotate(-90 39.1 1051.99)">Regional precipitation (cm)</text>
<text id="b-y80" x="94.5" y="642.4" font-size="36.7" textLength="42.22" lengthAdjust="spacingAndGlyphs">80</text>
<text id="b-y60" x="94.24" y="738.54" font-size="36.7" textLength="42.39" lengthAdjust="spacingAndGlyphs">60</text>
<text id="b-y40" x="95.35" y="834.68" font-size="36.7" textLength="41.26" lengthAdjust="spacingAndGlyphs">40</text>
<text id="b-y20" x="95.16" y="930.81" font-size="36.7" textLength="41.44" lengthAdjust="spacingAndGlyphs">20</text>
<text id="b-y0" x="114.24" y="1026.95" font-size="36.7" textLength="19.84" lengthAdjust="spacingAndGlyphs">0</text>
<text id="b-x1960" x="131.11" y="1077.5" font-size="36.7" textLength="78.85" lengthAdjust="spacingAndGlyphs">1960</text>
<text id="b-x1980" x="327.93" y="1077.5" font-size="36.7" textLength="78.69" lengthAdjust="spacingAndGlyphs">1980</text>
<text id="b-x2000" x="524.42" y="1077.5" font-size="36.7" textLength="78.66" lengthAdjust="spacingAndGlyphs">2000</text>
<text id="b-x2020" x="720.96" y="1077.5" font-size="36.7" textLength="78.76" lengthAdjust="spacingAndGlyphs">2020</text>
<text id="b-l" x="202.79" y="683.3" font-size="35" class="pl" textLength="45.36" lengthAdjust="spacingAndGlyphs">(b)</text>
<text id="ab-year" x="441.77" y="1162.9" font-size="43" class="tt" textLength="77.84" lengthAdjust="spacingAndGlyphs">Year</text>
<text id="c-yt1" x="886.1" y="482.85" font-size="43" class="tt" textLength="467.55" lengthAdjust="spacingAndGlyphs" transform="rotate(-90 886.1 482.85)">Caloosahatchee River flow</text>
<text id="c-yt2" x="941.5" y="409.55" font-size="43" class="tt" textLength="320.82" lengthAdjust="spacingAndGlyphs" transform="rotate(-90 941.5 409.55)">(annual) (m<tspan dy="-14.2" font-size="29" class="sp">3</tspan><tspan dy="14.2"> sec</tspan><tspan dy="-14.2" font-size="29" class="sp">-1</tspan><tspan dy="14.2">)</tspan></text>
<text id="c-y200" x="954.69" y="88.7" font-size="36.7" textLength="58.02" lengthAdjust="spacingAndGlyphs">200</text>
<text id="c-y150" x="954.73" y="191.22" font-size="36.7" textLength="58.02" lengthAdjust="spacingAndGlyphs">150</text>
<text id="c-y100" x="954.11" y="293.75" font-size="36.7" textLength="58.61" lengthAdjust="spacingAndGlyphs">100</text>
<text id="c-y50" x="973.6" y="396.28" font-size="36.7" textLength="40.71" lengthAdjust="spacingAndGlyphs">50</text>
<text id="c-y0" x="993.56" y="498.8" font-size="36.7" textLength="20.15" lengthAdjust="spacingAndGlyphs">0</text>
<text id="c-x1960" x="1010.44" y="549.7" font-size="36.7" textLength="78.79" lengthAdjust="spacingAndGlyphs">1960</text>
<text id="c-x1980" x="1207.36" y="549.7" font-size="36.7" textLength="78.97" lengthAdjust="spacingAndGlyphs">1980</text>
<text id="c-x2000" x="1405.31" y="549.7" font-size="36.7" textLength="77.81" lengthAdjust="spacingAndGlyphs">2000</text>
<text id="c-x2020" x="1602.05" y="549.7" font-size="36.7" textLength="77.99" lengthAdjust="spacingAndGlyphs">2020</text>
<text id="c-l" x="1081.18" y="126.3" font-size="35" class="pl" textLength="39.27" lengthAdjust="spacingAndGlyphs">(c)</text>
<text id="d-yt1" x="887.8" y="1036.83" font-size="43" class="tt" textLength="468.33" lengthAdjust="spacingAndGlyphs" transform="rotate(-90 887.8 1036.83)">Caloosahatchee River flow</text>
<text id="d-yt2" x="942.7" y="1036.53" font-size="43" class="tt" textLength="467.63" lengthAdjust="spacingAndGlyphs" transform="rotate(-90 942.7 1036.53)">(July-December) (m<tspan dy="-14.2" font-size="29" class="sp">3</tspan><tspan dy="14.2"> sec</tspan><tspan dy="-14.2" font-size="29" class="sp">-1</tspan><tspan dy="14.2">)</tspan></text>
<text id="d-y200" x="959.52" y="635.95" font-size="36.7" textLength="57.95" lengthAdjust="spacingAndGlyphs">200</text>
<text id="d-y150" x="959.53" y="733.38" font-size="36.7" textLength="58.03" lengthAdjust="spacingAndGlyphs">150</text>
<text id="d-y100" x="958.93" y="830.8" font-size="36.7" textLength="58.73" lengthAdjust="spacingAndGlyphs">100</text>
<text id="d-y50" x="978.6" y="928.23" font-size="36.7" textLength="41.23" lengthAdjust="spacingAndGlyphs">50</text>
<text id="d-y0" x="997.94" y="1025.65" font-size="36.7" textLength="20.7" lengthAdjust="spacingAndGlyphs">0</text>
<text id="d-x1960" x="1015.16" y="1076.9" font-size="36.7" textLength="78.33" lengthAdjust="spacingAndGlyphs">1960</text>
<text id="d-x1980" x="1210.52" y="1076.9" font-size="36.7" textLength="78.27" lengthAdjust="spacingAndGlyphs">1980</text>
<text id="d-x2000" x="1406.05" y="1076.9" font-size="36.7" textLength="77.99" lengthAdjust="spacingAndGlyphs">2000</text>
<text id="d-x2020" x="1601.34" y="1076.9" font-size="36.7" textLength="77.25" lengthAdjust="spacingAndGlyphs">2020</text>
<text id="d-l" x="1087.02" y="671.8" font-size="35" class="pl" textLength="44.83" lengthAdjust="spacingAndGlyphs">(d)</text>
<text id="cd-year" x="1299.34" y="1151.1" font-size="43" class="tt" textLength="76.89" lengthAdjust="spacingAndGlyphs">Year</text>
<text id="e-yt1" x="1740.8" y="1049.01" font-size="43" class="tt" textLength="467.96" lengthAdjust="spacingAndGlyphs" transform="rotate(-90 1740.8 1049.01)">Caloosahatchee River flow</text>
<text id="e-yt2" x="1795.7" y="1068.62" font-size="43" class="tt" textLength="508.13" lengthAdjust="spacingAndGlyphs" transform="rotate(-90 1795.7 1068.62)">anomaly (July-Dec) (m<tspan dy="-14.2" font-size="29" class="sp">3</tspan><tspan dy="14.2"> sec</tspan><tspan dy="-14.2" font-size="29" class="sp">-1</tspan><tspan dy="14.2">)</tspan></text>
<text id="e-y150" x="1812.59" y="638.6" font-size="36.7" textLength="55.65" lengthAdjust="spacingAndGlyphs">150</text>
<text id="e-y100" x="1812.59" y="735.5" font-size="36.7" textLength="55.65" lengthAdjust="spacingAndGlyphs">100</text>
<text id="e-y50" x="1831.32" y="832.4" font-size="36.7" textLength="40.61" lengthAdjust="spacingAndGlyphs">50</text>
<text id="e-y0" x="1850.33" y="929.3" font-size="36.7" textLength="21.15" lengthAdjust="spacingAndGlyphs">0</text>
<text id="e-y-50" x="1819" y="1026.2" font-size="36.7" textLength="52.49" lengthAdjust="spacingAndGlyphs">-50</text>
<text id="e-x-30" x="1881.53" y="1077.4" font-size="36.7" textLength="50.26" lengthAdjust="spacingAndGlyphs">-30</text>
<text id="e-x-20" x="1976.32" y="1077.4" font-size="36.7" textLength="50.46" lengthAdjust="spacingAndGlyphs">-20</text>
<text id="e-x-10" x="2071.56" y="1077.4" font-size="36.7" textLength="49.98" lengthAdjust="spacingAndGlyphs">-10</text>
<text id="e-x0" x="2182.03" y="1077.4" font-size="36.7" textLength="19.24" lengthAdjust="spacingAndGlyphs">0</text>
<text id="e-x10" x="2268.06" y="1077.4" font-size="36.7" textLength="39.82" lengthAdjust="spacingAndGlyphs">10</text>
<text id="e-x20" x="2362.48" y="1077.4" font-size="36.7" textLength="40.13" lengthAdjust="spacingAndGlyphs">20</text>
<text id="e-x30" x="2457.41" y="1077.4" font-size="36.7" textLength="39.89" lengthAdjust="spacingAndGlyphs">30</text>
<text id="e-l" x="1956.04" y="648.3" font-size="35" class="pl" textLength="43.74" lengthAdjust="spacingAndGlyphs">(e)</text>
<text id="e-eq" x="1930.84" y="687.1" font-size="31.5" textLength="243.54" lengthAdjust="spacingAndGlyphs">y = 2.097x + 0.969</text>
<text id="e-r" x="2008.4" y="728.7" font-size="31.5" textLength="88.26" lengthAdjust="spacingAndGlyphs">r=0.46</text>
<text id="e-p" x="2015.75" y="770.3" font-size="31.5" textLength="74.57" lengthAdjust="spacingAndGlyphs"><tspan font-style="italic">p</tspan>&lt;.01</text>
<text id="e-xt1" x="2026.88" y="1143.9" font-size="34.5" class="xt" textLength="341.4" lengthAdjust="spacingAndGlyphs">Regional precipitation</text>
<text id="e-xt2" x="2095.4" y="1190" font-size="34.5" class="xt" textLength="212.75" lengthAdjust="spacingAndGlyphs">anomaly (cm)</text>
<text id="lg-1" x="1791.53" y="267.2" font-size="33" class="pl" textLength="146.94" lengthAdjust="spacingAndGlyphs">1970-1994</text>
<text id="lg-2" x="1791.53" y="332" font-size="33" class="pl" textLength="146.42" lengthAdjust="spacingAndGlyphs">1995-2013</text>
<text id="lg-3" x="1792.03" y="401.9" font-size="33" class="pl" textLength="146.93" lengthAdjust="spacingAndGlyphs">2014-2019</text>
</g>
</svg></body></html>
